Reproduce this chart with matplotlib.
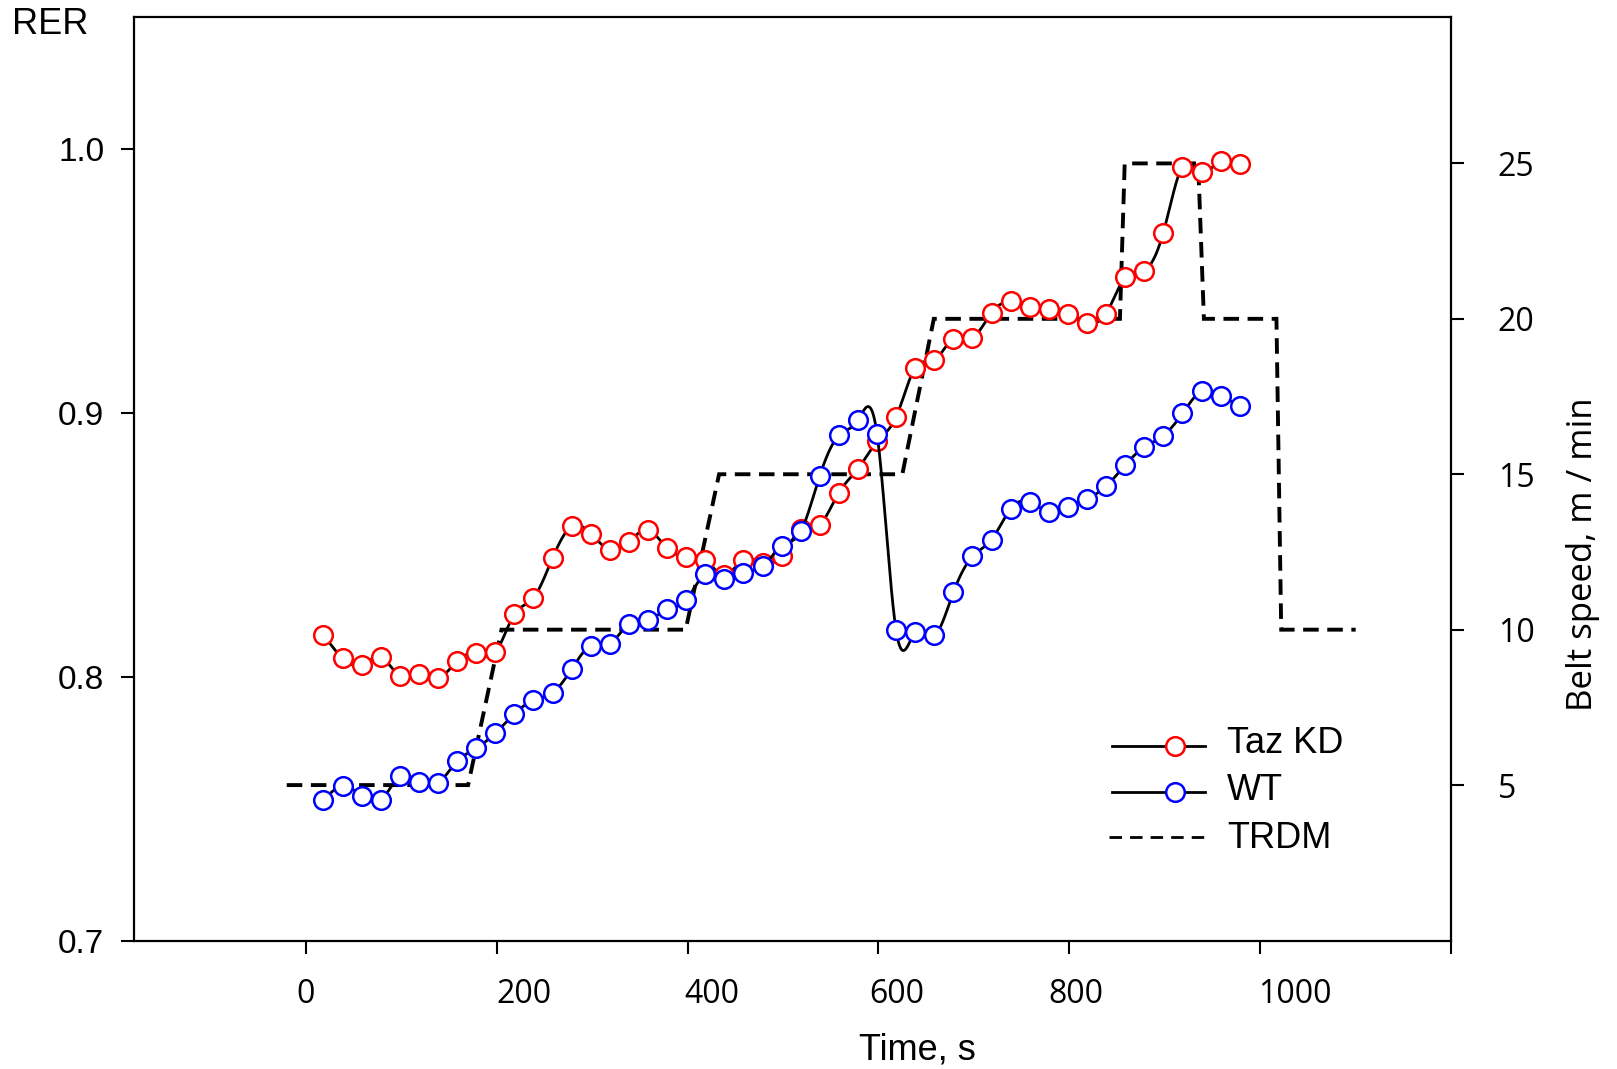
import numpy as np
import matplotlib
matplotlib.use("Agg")
import matplotlib.pyplot as plt

# ---- data -------------------------------------------------------------
time_s = [18.5, 38.5, 58.5, 78.5, 98.5, 118.5, 138.5, 158.5, 178.5, 198.5,
          218.5, 238.5, 258.5, 278.5, 298.5, 318.5, 338.5, 358.5, 378.5, 398.5,
          418.5, 438.5, 458.5, 478.5, 498.5, 518.5, 538.5, 558.5, 578.5, 598.5,
          618.5, 638.5, 658.5, 678.5, 698.5, 718.5, 738.5, 758.5, 778.5, 798.5,
          818.5, 838.5, 858.5, 878.5, 898.5, 918.5, 938.5, 958.5, 978.5]

rer_taz_kd = [0.8160, 0.8070, 0.8044, 0.8075, 0.8003, 0.8010, 0.7994, 0.8059, 0.8089, 0.8092,
              0.8237, 0.8299, 0.8450, 0.8570, 0.8543, 0.8482, 0.8512, 0.8556, 0.8488, 0.8455,
              0.8442, 0.8386, 0.8442, 0.8433, 0.8456, 0.8560, 0.8577, 0.8698, 0.8788, 0.8892,
              0.8985, 0.9172, 0.9200, 0.9282, 0.9285, 0.9380, 0.9423, 0.9403, 0.9396, 0.9374,
              0.9342, 0.9377, 0.9514, 0.9539, 0.9684, 0.9934, 0.9913, 0.9956, 0.9944]

rer_wt = [0.7534, 0.7584, 0.7549, 0.7532, 0.7623, 0.7601, 0.7597, 0.7679, 0.7729, 0.7786,
          0.7859, 0.7911, 0.7939, 0.8029, 0.8117, 0.8126, 0.8199, 0.8215, 0.8255, 0.8291,
          0.8390, 0.8370, 0.8395, 0.8419, 0.8495, 0.8551, 0.8762, 0.8915, 0.8972, 0.8920,
          0.8176, 0.8170, 0.8157, 0.8320, 0.8456, 0.8520, 0.8636, 0.8664, 0.8624, 0.8645,
          0.8675, 0.8722, 0.8803, 0.8870, 0.8914, 0.8998, 0.9082, 0.9065, 0.9028]

# treadmill protocol (belt speed, m/min)
trdm_time = [-20, 170, 205, 398, 433, 625, 658, 853, 858, 935, 941, 1017, 1022, 1100]
trdm_speed = [5, 5, 10, 10, 15, 15, 20, 20, 25, 25, 20, 20, 10, 10]

x_ticks = [0, 200, 400, 600, 800, 1000, 1200]
x_tick_labels = ["0", "200", "400", "600", "800", "1000", ""]
rer_ticks = [0.7, 0.8, 0.9, 1.0]
rer_tick_labels = ["0.7", "0.8", "0.9", "1.0"]
speed_ticks = [5, 10, 15, 20, 25]

# horizontal nudge (points) of each time label relative to its tick
x_label_shift = [0, 19.4, 17.3, 13.0, 5.0, 25.2, 0]


def natural_spline(x, y, per_seg=24):
    """Smooth curve through every point (natural cubic spline)."""
    x = np.asarray(x, float)
    y = np.asarray(y, float)
    n = len(x)
    h = np.diff(x)
    A = np.zeros((n, n))
    rhs = np.zeros(n)
    A[0, 0] = A[-1, -1] = 1.0
    for i in range(1, n - 1):
        A[i, i - 1] = h[i - 1]
        A[i, i] = 2 * (h[i - 1] + h[i])
        A[i, i + 1] = h[i]
        rhs[i] = 3 * ((y[i + 1] - y[i]) / h[i] - (y[i] - y[i - 1]) / h[i - 1])
    c = np.linalg.solve(A, rhs)
    b = (y[1:] - y[:-1]) / h - h * (2 * c[:-1] + c[1:]) / 3
    d = (c[1:] - c[:-1]) / (3 * h)
    xs, ys = [], []
    for i in range(n - 1):
        t = np.linspace(0, h[i], per_seg, endpoint=False)
        xs.append(x[i] + t)
        ys.append(y[i] + b[i] * t + c[i] * t ** 2 + d[i] * t ** 3)
    xs.append([x[-1]])
    ys.append([y[-1]])
    return np.concatenate(xs), np.concatenate(ys)


SANS = ["Liberation Sans", "DejaVu Sans"]
OPEN = ["Open Sans", "DejaVu Sans"]

fig = plt.figure(figsize=(16.17, 10.69), dpi=100)
ax = fig.add_axes([0.0829, 0.1202, 0.8145, 0.8636])
ax2 = ax.twinx()
ax.set_zorder(ax2.get_zorder() + 1)
ax.patch.set_visible(False)

# belt speed protocol on the right axis
ax2.plot(trdm_time, trdm_speed, color="black", lw=2.8, dashes=(4.0, 2.2),
         dash_joinstyle="miter", dash_capstyle="butt")

marker_kw = dict(ls="none", marker="o", ms=13.4, mfc="white", mew=1.8)

sx, sy = natural_spline(time_s, rer_taz_kd)
ax.plot(sx, sy, color="black", lw=2.0, zorder=2)
ax.plot(time_s, rer_taz_kd, mec="#ff0000", zorder=3, **marker_kw)

sx, sy = natural_spline(time_s, rer_wt)
ax.plot(sx, sy, color="black", lw=2.0, zorder=4)
ax.plot(time_s, rer_wt, mec="#0000ff", zorder=5, **marker_kw)

# axes limits and ticks
ax.set_xlim(-180, 1200)
ax.set_ylim(0.7, 1.05)
ax2.set_ylim(0, 29.7)

TICK_LEN, X_PAD = 9.5, 17.5
ax.set_xticks(x_ticks)
ax.set_yticks(rer_ticks)
ax.set_yticklabels(rer_tick_labels, fontsize=24, fontfamily=SANS)
ax2.set_yticks(speed_ticks)
ax2.set_yticklabels([str(v) for v in speed_ticks], fontsize=23, fontfamily=OPEN)

ax.tick_params(axis="x", direction="out", length=TICK_LEN, width=1.5,
               top=False, labelbottom=False)
ax.tick_params(axis="y", direction="out", length=TICK_LEN, width=1.5, pad=12, right=False)
ax2.tick_params(axis="y", direction="out", length=TICK_LEN, width=1.5, pad=24)

# time labels under the ticks
for tx, lab, dx in zip(x_ticks, x_tick_labels, x_label_shift):
    if lab:
        ax.annotate(lab, xy=(tx, 0), xycoords=("data", "axes fraction"),
                    xytext=(dx, -(TICK_LEN + X_PAD)), textcoords="offset points",
                    ha="center", va="top", fontsize=23, fontfamily=OPEN,
                    annotation_clip=False)

for sp in ax.spines.values():
    sp.set_linewidth(1.6)
for sp in ax2.spines.values():
    sp.set_visible(False)

# axis titles
ax.text(-0.0923, 0.9819, "RER", transform=ax.transAxes, fontsize=26,
        fontfamily=SANS, ha="left", va="baseline")
ax.text(0.5945, -0.100, "Time, s", transform=ax.transAxes, fontsize=26,
        fontfamily=SANS, ha="center", va="top")
ax.text(1.1002, 0.4189, "Belt speed, m / min", transform=ax.transAxes,
        fontsize=25, fontfamily=OPEN, rotation=90, ha="center", va="center")

# legend
leg_x0, leg_x1, leg_xm, leg_xt = 0.7424, 0.8132, 0.7904, 0.8297
legend_rows = [("Taz KD", "#ff0000", 0.2107, 0.2028, True),
               ("WT", "#0000ff", 0.1612, 0.1522, True),
               ("TRDM", None, 0.1124, 0.0999, False)]
for label, col, y_line, y_base, solid in legend_rows:
    if solid:
        ax.plot([leg_x0, leg_x1], [y_line, y_line], color="black", lw=2.0,
                transform=ax.transAxes, zorder=6)
        ax.plot([leg_xm], [y_line], transform=ax.transAxes, mec=col, zorder=7,
                **marker_kw)
    else:
        ax.plot([leg_x0 - 0.002, leg_x1], [y_line, y_line], color="black", lw=2.0,
                dashes=(4.5, 2.9), transform=ax.transAxes, zorder=6)
    ax.text(leg_xt, y_base, label, transform=ax.transAxes, fontsize=26,
            fontfamily=SANS, ha="left", va="baseline")

fig.savefig("out.png", dpi=100)
